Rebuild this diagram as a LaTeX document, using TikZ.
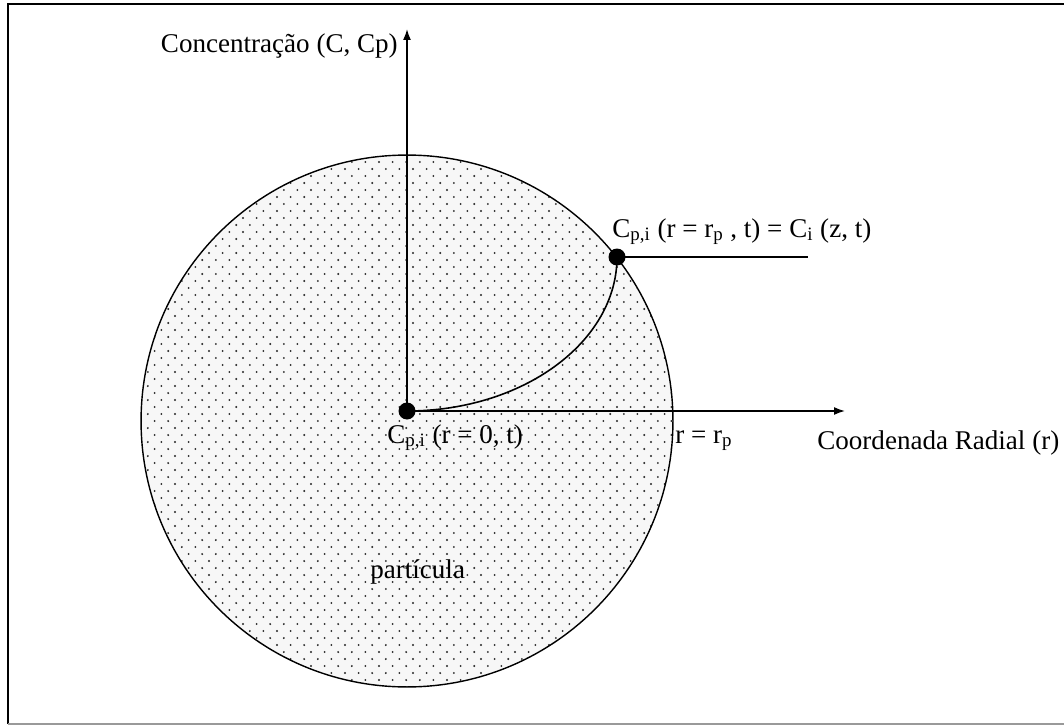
\documentclass[tikz,border=0pt]{standalone}
\usepackage{fontspec}
\setmainfont{Liberation Serif}
\usepackage{tikz}
\usetikzlibrary{arrows.meta, positioning}

\begin{document}
\begin{tikzpicture}[
	x=0.02cm, y=-0.02cm,
	ponto/.style={circle, fill=black, inner sep=0pt, minimum size=0.34cm},
	eixo/.style={-{Latex[length=2.2mm, width=1.6mm]}, line width=0.9pt},
	linha/.style={line width=0.9pt},
	rotulo/.style={font=\fontsize{15.4}{18}\selectfont, inner sep=0pt}
	]
\useasboundingbox (0,0) rectangle (1064,726);
% moldura
\draw[line width=1.6pt] (1064,4) -- (8,4) -- (8,724);
\draw[line width=1.2pt, black!40] (8,724) -- (1064,724);

% particula pontilhada
\begin{scope}
	\clip (407,421) circle [radius=5.32cm];
	\fill[black!3] (407,421) circle [radius=5.32cm];
	\foreach \yy in {155,169,...,690}
		\foreach \xx in {141,154.6,...,676} {
			\fill[black!85] (\xx,\yy) circle [radius=0.021cm];
			\fill[black!85] (\xx+6.8,\yy+7) circle [radius=0.021cm];
		}
\end{scope}
\draw[line width=0.8pt] (407,421) circle [radius=5.32cm];

\node[ponto] (orig) at (407,411) {};
\node[ponto] (sup) at (617,257) {};
\coordinate (ytop) at (407,29);
\coordinate (xfim) at (845,411);
\coordinate (lfim) at (808,257);

\draw[eixo] (orig.center) -- (ytop);
\draw[eixo] (orig.center) -- (xfim);
\draw[linha] (sup.center) -- (lfim);
\draw[linha] (orig.center) .. controls (523,411) and (617,342) .. (sup.center);

\node[rotulo, anchor=base east] (yl) at (398,53) {Concentração (C, Cp)};
\node[rotulo, anchor=base west] (xl) at (817,449) {Coordenada Radial (r)};
\node[rotulo, anchor=base west] (cs) at (612,237)
	{C\textsubscript{p,i} (r = r\textsubscript{p} , t) = C\textsubscript{i} (z, t)};
\node[rotulo, anchor=base west] (c0) at (387,443) {C\textsubscript{p,i} (r = 0, t)};
\node[rotulo, anchor=base west] (rp) at (675,443) {r = r\textsubscript{p}};
\node[rotulo, anchor=base west] (pt) at (370,578) {partícula};
\end{tikzpicture}
\end{document}
